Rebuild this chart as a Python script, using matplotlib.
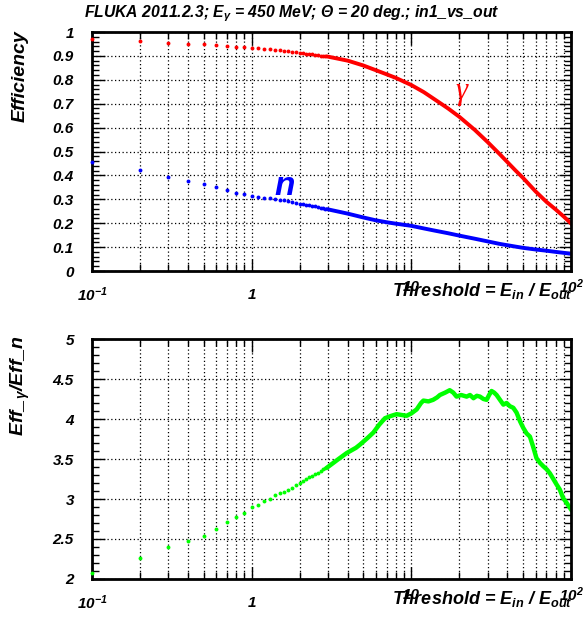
#!/usr/bin/env python3
"""FLUKA efficiency vs threshold, gamma and neutron, plus their ratio."""

import matplotlib
matplotlib.use('Agg')
import matplotlib.pyplot as plt
import matplotlib.transforms as mtransforms
from matplotlib.ticker import LogLocator, MultipleLocator, NullFormatter

plt.rcParams['font.family'] = ['Liberation Sans', 'DejaVu Sans']
plt.rcParams['font.weight'] = 'bold'
plt.rcParams['font.style'] = 'italic'
plt.rcParams['mathtext.fontset'] = 'custom'
plt.rcParams['mathtext.rm'] = 'Liberation Sans:italic:bold'
plt.rcParams['mathtext.it'] = 'Liberation Sans:italic:bold'
plt.rcParams['mathtext.bf'] = 'Liberation Sans:italic:bold'

# Threshold grid, sparse part (drawn as dots)
x_low = [0.1, 0.2, 0.3, 0.4, 0.5, 0.6, 0.7, 0.8, 0.9, 1.0,
         1.1, 1.2, 1.3, 1.4, 1.5, 1.6, 1.7, 1.8, 1.9, 2.0,
         2.1, 2.2, 2.3, 2.4, 2.5, 2.6, 2.7, 2.8, 2.9]
eff_gamma_low = [0.970, 0.963, 0.956, 0.951, 0.948, 0.945, 0.942, 0.938, 0.937, 0.934,
                 0.932, 0.930, 0.928, 0.926, 0.924, 0.922, 0.920, 0.918, 0.916, 0.913,
                 0.911, 0.910, 0.908, 0.906, 0.904, 0.902, 0.900, 0.899, 0.898]
eff_n_low = [0.456, 0.421, 0.392, 0.376, 0.365, 0.351, 0.339, 0.328, 0.322, 0.314,
             0.311, 0.307, 0.304, 0.301, 0.298, 0.295, 0.292, 0.289, 0.286, 0.282,
             0.280, 0.278, 0.275, 0.273, 0.270, 0.268, 0.265, 0.263, 0.261]
ratio_low = [2.08, 2.26, 2.40, 2.48, 2.54, 2.63, 2.71, 2.78, 2.82, 2.90,
             2.93, 2.97, 3.00, 3.05, 3.07, 3.09, 3.11, 3.14, 3.17, 3.20,
             3.22, 3.25, 3.27, 3.29, 3.31, 3.33, 3.35, 3.37, 3.39]

# Dense part (points merge into a line)
x_hi = [3, 4, 5, 6, 7, 8, 10, 12, 14, 17, 20, 25, 30, 36, 45, 50, 60, 70, 80, 90, 100]
eff_gamma_hi = [0.897, 0.880, 0.860, 0.840, 0.823, 0.808, 0.778, 0.748, 0.718, 0.680, 0.645,
                0.590, 0.540, 0.487, 0.420, 0.390, 0.333, 0.290, 0.258, 0.228, 0.199]
eff_n_hi = [0.258, 0.240, 0.224, 0.212, 0.204, 0.198, 0.189, 0.178, 0.169, 0.158, 0.148,
            0.135, 0.124, 0.113, 0.102, 0.097, 0.090, 0.085, 0.080, 0.076, 0.072]

x_ratio_hi = [3.0, 3.5, 3.94, 4.5, 4.77, 5.3, 5.78, 6.3, 6.84, 7.5, 8.09, 8.7, 9.34, 10.0,
              10.8, 11.5, 11.9, 12.8, 13.7, 14.5, 15.1, 16.3, 17.4, 18.3, 19.2, 20.5, 22.2,
              23.3, 24.5, 25.7, 26.9, 28.3, 29.6, 30.7, 31.8, 33.0, 34.2, 35.9, 37.7, 39.5,
              41.4, 43.5, 45.6, 48.0, 50.2, 52.7, 55.3, 58.0, 60.8, 64.0, 67.0, 70.5, 73.8,
              77.5, 81.3, 85.0, 89.4, 94.0, 100.0]
ratio_hi = [3.40, 3.50, 3.575, 3.64, 3.68, 3.76, 3.83, 3.93, 4.01, 4.04, 4.06, 4.05, 4.04, 4.07,
            4.12, 4.20, 4.23, 4.22, 4.24, 4.27, 4.30, 4.33, 4.36, 4.33, 4.28, 4.30, 4.28,
            4.30, 4.26, 4.29, 4.28, 4.25, 4.24, 4.30, 4.35, 4.33, 4.30, 4.24, 4.18, 4.20,
            4.16, 4.14, 4.08, 3.97, 3.89, 3.82, 3.78, 3.65, 3.51, 3.45, 3.41, 3.37, 3.32,
            3.25, 3.18, 3.12, 3.01, 2.95, 2.87]

W, H = 586, 627
fig = plt.figure(figsize=(W / 100, H / 100), dpi=100)


def px_axes(left, top, right, bottom):
    return fig.add_axes([left / W, 1 - bottom / H, (right - left) / W, (bottom - top) / H])


def style_axes(ax, ymajor, yminor, ylim):
    ax.set_xscale('log')
    ax.set_xlim(0.1, 100)
    ax.set_ylim(*ylim)
    ax.xaxis.set_major_locator(LogLocator(base=10, numticks=10))
    ax.xaxis.set_minor_locator(LogLocator(base=10, subs=range(2, 10), numticks=20))
    ax.xaxis.set_major_formatter(NullFormatter())
    ax.xaxis.set_minor_formatter(NullFormatter())
    ax.yaxis.set_major_locator(MultipleLocator(ymajor))
    ax.yaxis.set_minor_locator(MultipleLocator(yminor))
    ax.yaxis.set_major_formatter(plt.FuncFormatter(lambda v, p: f'{v:g}'))
    ax.tick_params(which='both', direction='in', top=True, right=True, width=1)
    ax.tick_params(which='major', length=9)
    ax.tick_params(which='minor', length=5)
    ax.tick_params(axis='y', which='major', pad=13, labelsize=11)
    ax.grid(True, which='both', axis='x', color='black', linestyle=(0, (1, 2)), linewidth=0.9)
    ax.grid(True, which='major', axis='y', color='black', linestyle=(0, (1, 2)), linewidth=0.9)
    for s in ax.spines.values():
        s.set_linewidth(2)
    # ROOT style decade labels
    trans = mtransforms.blended_transform_factory(ax.transData, ax.transAxes)
    labels = [(0.1, '$10^{-1}$', -0.1), (1, '1', -0.1), (10, '10', -0.065), (100, '$10^{2}$', -0.065)]
    for xv, lab, yoff in labels:
        ax.text(xv, yoff, lab, transform=trans, ha='center', va='center', fontsize=11)
    ax.text(1.003, -0.085, 'Threshold = E$_{in}$ / E$_{out}$', transform=ax.transAxes,
            ha='right', va='center', fontsize=13)


# Top panel: efficiencies
ax1 = px_axes(92, 32, 571, 271)
style_axes(ax1, 0.1, 0.02, (0, 1))
ax1.plot(x_low, eff_gamma_low, 'o', color='red', ms=2.8, mew=0, clip_on=False, zorder=3)
ax1.plot(x_hi, eff_gamma_hi, '-', color='red', lw=2.8)
ax1.plot(x_low, eff_n_low, 'o', color='blue', ms=2.8, mew=0, clip_on=False, zorder=3)
ax1.plot(x_hi, eff_n_hi, '-', color='blue', lw=2.8)
ax1.text(20.5, 0.75, 'γ', color='red', fontsize=22, family='Liberation Serif',
         style='italic', weight='normal', ha='center', va='center')
ax1.text(1.6, 0.355, 'n', color='blue', fontsize=24, ha='center', va='center')

# Bottom panel: ratio
ax2 = px_axes(92, 339, 571, 579)
style_axes(ax2, 0.5, 0.1, (2, 5))
ax2.plot(x_low, ratio_low, 'o', color='#00ff00', ms=2.8, mew=0, clip_on=False, zorder=3)
ax2.plot(x_ratio_hi, ratio_hi, '-', color='#00ff00', lw=3.2)

fig.text(292 / W, 1 - 14 / H, 'FLUKA 2011.2.3; E$_{γ}$ = 450 MeV; Θ = 20 deg.; in1_vs_out',
         ha='center', va='center', fontsize=11.3)
fig.text(20 / W, 1 - 30 / H, 'Efficiency', rotation=90, ha='center', va='top', fontsize=14)
fig.text(20 / W, 1 - 336 / H, 'Eff_$_{γ}$/Eff_n', rotation=90, ha='center', va='top', fontsize=14)

plt.savefig('out.png', dpi=100)
print('Saved: out.png')
